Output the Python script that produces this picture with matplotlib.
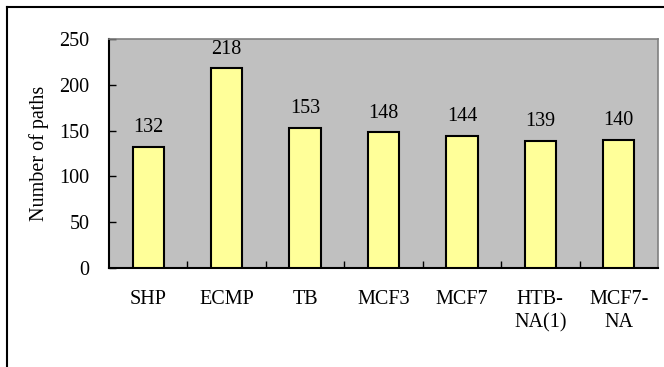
import matplotlib.pyplot as plt
import numpy as np

categories = ["SHP", "ECMP", "TB", "MCF3", "MCF7", "HTB-\nNA(1)", "MCF7-\nNA"]
paths = [132, 218, 153, 148, 144, 139, 140]

plt.rcParams["font.family"] = ["Liberation Serif", "DejaVu Serif"]
FS = 14.5

fig = plt.figure(figsize=(6.64, 3.67), dpi=100)
ax = fig.add_axes([109 / 664, 99 / 367, 549 / 664, 229 / 367])
ax.set_facecolor("#C0C0C0")

x = np.arange(len(categories))
ax.bar(x, paths, width=0.4, color="#FFFF99", edgecolor="black", linewidth=1.5, zorder=3)
for xi, v in zip(x, paths):
    ax.annotate(str(v), (xi, v), xytext=(0, 7), textcoords="offset points",
                ha="center", va="bottom", fontsize=FS)

ax.set_xlim(-0.5, len(categories) - 0.5)
ax.set_ylim(0, 250)
ax.set_yticks(range(0, 251, 50))
ax.set_xticks(x)
ax.set_xticklabels(categories, fontsize=FS, linespacing=1.3, va="top")
ax.set_xticks(np.arange(0.5, len(categories) - 0.5), minor=True)
ax.tick_params(axis="x", which="major", length=0, pad=16)
ax.tick_params(axis="x", which="minor", direction="in", length=5, width=1)
ax.tick_params(axis="y", direction="in", length=5, width=1, pad=14, labelsize=FS)
ax.set_ylabel("Number of paths", fontsize=FS)
ax.yaxis.set_label_coords(-60 / 549, 0.5)

for side in ("left", "bottom"):
    ax.spines[side].set_color("black")
    ax.spines[side].set_linewidth(1.5)
for side in ("top", "right"):
    ax.spines[side].set_color("#808080")
    ax.spines[side].set_linewidth(1.2)

# outer frame: only top and left edges fall inside the image
fig.add_artist(plt.Line2D([7 / 664, 1], [1 - 7 / 367, 1 - 7 / 367], color="black", lw=1.5, transform=fig.transFigure))
fig.add_artist(plt.Line2D([7 / 664, 7 / 664], [0, 1 - 7 / 367], color="black", lw=1.5, transform=fig.transFigure))

fig.savefig("out.png", dpi=100)
